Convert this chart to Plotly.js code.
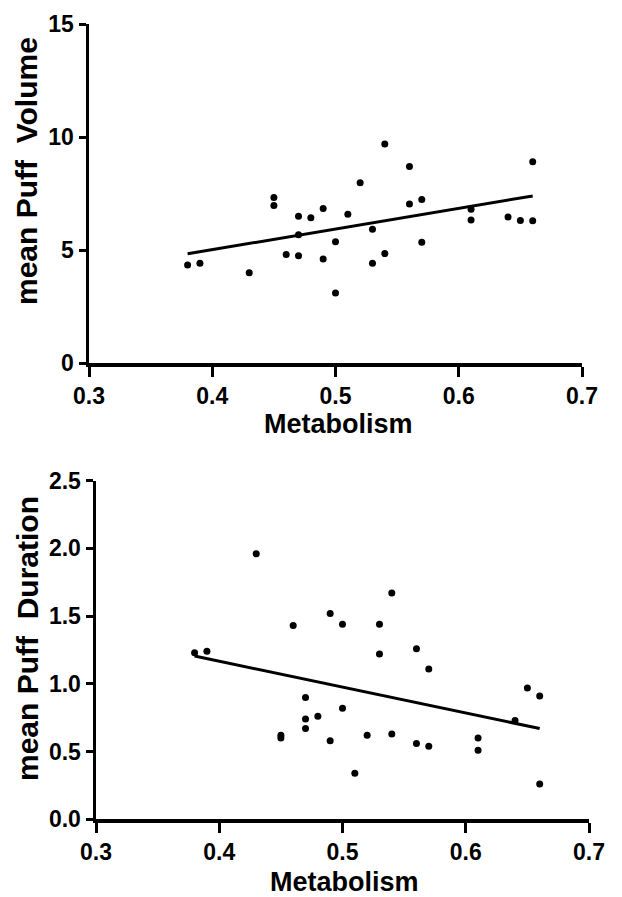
<!DOCTYPE html>
<html>
<head>
<meta charset="utf-8">
<script src="https://cdn.plot.ly/plotly-3.0.1.min.js"></script>
<style>html,body{margin:0;padding:0;background:#fff;}#chart{width:622px;height:897px;}</style>
</head>
<body>
<div id="chart"></div>
<script>
// Top panel: Metabolism vs mean Puff Volume
var volX = [0.38, 0.39, 0.43, 0.45, 0.45, 0.46, 0.47, 0.47, 0.47, 0.48, 0.49, 0.49, 0.50, 0.50, 0.51,
            0.52, 0.53, 0.53, 0.54, 0.54, 0.56, 0.56, 0.57, 0.57, 0.61, 0.61, 0.64, 0.65, 0.66, 0.66];
var volY = [4.35, 4.42, 4.00, 7.33, 6.98, 4.81, 6.50, 5.68, 4.75, 6.43, 6.84, 4.61, 5.37, 3.11, 6.59,
            7.98, 5.93, 4.42, 9.70, 4.85, 8.70, 7.04, 7.24, 5.35, 6.81, 6.34, 6.47, 6.31, 8.91, 6.30];
var volFitX = [0.38, 0.66];
var volFitY = [4.84, 7.40];

// Bottom panel: Metabolism vs mean Puff Duration
var durX = [0.38, 0.39, 0.43, 0.45, 0.45, 0.46, 0.47, 0.47, 0.47, 0.48, 0.49, 0.49, 0.50, 0.50, 0.51,
            0.52, 0.53, 0.53, 0.54, 0.54, 0.56, 0.56, 0.57, 0.57, 0.61, 0.61, 0.64, 0.65, 0.66, 0.66];
var durY = [1.23, 1.24, 1.96, 0.62, 0.60, 1.43, 0.90, 0.74, 0.67, 0.76, 1.52, 0.58, 1.44, 0.82, 0.34,
            0.62, 1.44, 1.22, 1.67, 0.63, 1.26, 0.56, 1.11, 0.54, 0.60, 0.51, 0.73, 0.97, 0.91, 0.26];
var durFitX = [0.38, 0.66];
var durFitY = [1.205, 0.67];

var xTicks = [0.3, 0.4, 0.5, 0.6, 0.7];
var volTicks = [0, 5, 10, 15];
var durTicks = [0.0, 0.5, 1.0, 1.5, 2.0, 2.5];

var xTitle = 'Metabolism';
var volTitle = 'mean Puff\u00a0\u00a0Volume';
var durTitle = 'mean Puff\u00a0\u00a0Duration';

var W = 622, H = 897;
var FONT = 'Liberation Sans, Arial, sans-serif';
function px(x) { return x / W; }
function py(y) { return 1 - y / H; }

var markerStyle = {color: '#000', size: 7};
var lineStyle = {color: '#000', width: 3};

var traces = [
  {x: volX, y: volY, type: 'scatter', mode: 'markers', marker: markerStyle, xaxis: 'x', yaxis: 'y', cliponaxis: false},
  {x: volFitX, y: volFitY, type: 'scatter', mode: 'lines', line: lineStyle, xaxis: 'x', yaxis: 'y'},
  {x: durX, y: durY, type: 'scatter', mode: 'markers', marker: markerStyle, xaxis: 'x2', yaxis: 'y2', cliponaxis: false},
  {x: durFitX, y: durFitY, type: 'scatter', mode: 'lines', line: lineStyle, xaxis: 'x2', yaxis: 'y2'}
];

var tickFont = {family: FONT, size: 23, color: '#000', weight: 700};

function xAxis(domain, anchor) {
  return {
    domain: domain, anchor: anchor, range: [0.3, 0.7],
    tickvals: xTicks, ticktext: xTicks.map(function (v) { return v.toFixed(1); }),
    ticks: 'outside', ticklen: 10, tickwidth: 3, tickcolor: '#000',
    showline: true, linecolor: '#000', linewidth: 3.5,
    showgrid: false, zeroline: false, tickfont: tickFont, fixedrange: true
  };
}
function yAxis(domain, anchor, ticks, fmt) {
  return {
    domain: domain, anchor: anchor, range: [ticks[0], ticks[ticks.length - 1]],
    tickvals: ticks, ticktext: ticks.map(function (v) { return v.toFixed(fmt); }),
    ticks: 'outside', ticklen: 7, tickwidth: 3, tickcolor: '#000',
    showline: true, linecolor: '#000', linewidth: 3.5,
    showgrid: false, zeroline: false, tickfont: tickFont, fixedrange: true
  };
}

var titleFont = {family: FONT, size: 27, color: '#000', weight: 700};
var yTitleFont = {family: FONT, size: 30, color: '#000', weight: 700};

var layout = {
  width: W, height: H,
  margin: {l: 0, r: 0, t: 0, b: 0},
  paper_bgcolor: '#fff', plot_bgcolor: '#fff',
  showlegend: false,
  xaxis: xAxis([px(89), px(582)], 'y'),
  yaxis: yAxis([py(363.3), py(24)], 'x', volTicks, 0),
  xaxis2: xAxis([px(96), px(589)], 'y2'),
  yaxis2: yAxis([py(819.3), py(480.7)], 'x2', durTicks, 1),
  annotations: [
    {text: xTitle, xref: 'paper', yref: 'paper', x: px(338), y: py(424), xanchor: 'center', yanchor: 'middle', showarrow: false, font: titleFont},
    {text: xTitle, xref: 'paper', yref: 'paper', x: px(344), y: py(882), xanchor: 'center', yanchor: 'middle', showarrow: false, font: titleFont},
    {text: volTitle, xref: 'paper', yref: 'paper', x: px(27), y: py(171), xanchor: 'center', yanchor: 'middle', textangle: -90, showarrow: false, font: yTitleFont},
    {text: durTitle, xref: 'paper', yref: 'paper', x: px(27), y: py(639), xanchor: 'center', yanchor: 'middle', textangle: -90, showarrow: false, font: yTitleFont}
  ]
};

Plotly.newPlot('chart', traces, layout, {staticPlot: true, displayModeBar: false});
</script>
</body>
</html>
